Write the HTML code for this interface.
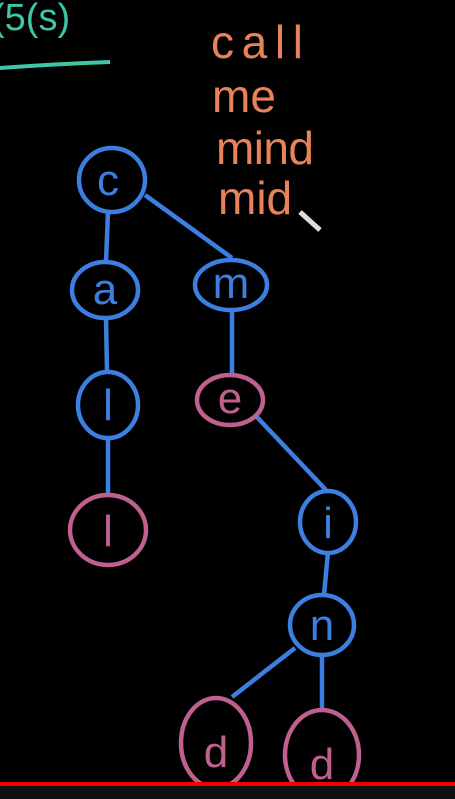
<!DOCTYPE html>
<html><head><style>
body{margin:0;background:#000;width:455px;height:799px;overflow:hidden}
svg{display:block}
text{font-family:"Liberation Sans",sans-serif}
</style></head><body>
<svg width="455" height="799" viewBox="0 0 455 799">
<rect width="455" height="799" fill="#000"/>
<text x="-8" y="30" fill="#3fc6a6" font-size="38">(5(s)</text>
<path d="M0 68 Q55 64 110 62" stroke="#3fc6a6" stroke-width="4" fill="none"/>
<g fill="#e8825a" font-size="46">
<text x="211" y="58" textLength="92">call</text>
<text x="212" y="112">me</text>
<text x="216" y="164" textLength="98">mind</text>
<text x="218" y="214">mid</text>
</g>
<path d="M300 212 L320 230" stroke="#ddd" stroke-width="5"/>
<g stroke="#3d7fe0" stroke-width="4.5" fill="none">
<path d="M108 212 L106 262"/><path d="M145 195 L232 258"/>
<path d="M106 318 L107 372"/><path d="M108 438 L108 495"/>
<path d="M232 310 L232 375"/><path d="M255 415 L326 490"/>
<path d="M328 552 L324 595"/><path d="M295 648 L232 697"/>
<path d="M322 655 L322 712"/>
</g>
<g font-size="44" text-anchor="middle" stroke-width="4.5">
<g><ellipse cx="112" cy="180" rx="33" ry="32" stroke="#3d7fe0" fill="none"/><text x="108" y="195" fill="#3d7fe0" stroke="none">c</text></g>
<g><ellipse cx="105" cy="290" rx="33" ry="28" stroke="#3d7fe0" fill="none"/><text x="105" y="304" fill="#3d7fe0" stroke="none">a</text></g>
<g><ellipse cx="108" cy="405" rx="30" ry="33" stroke="#3d7fe0" fill="none"/><text x="108" y="420" fill="#3d7fe0" stroke="none">l</text></g>
<g><ellipse cx="108" cy="530" rx="38" ry="35" stroke="#c0608f" fill="none"/><text x="108" y="546" fill="#c0608f" stroke="none">l</text></g>
<g><ellipse cx="231" cy="285" rx="36" ry="25" stroke="#3d7fe0" fill="none"/><text x="231" y="298" fill="#3d7fe0" stroke="none">m</text></g>
<g><ellipse cx="230" cy="400" rx="33" ry="25" stroke="#c0608f" fill="none"/><text x="230" y="413" fill="#c0608f" stroke="none">e</text></g>
<g><ellipse cx="328" cy="522" rx="28" ry="31" stroke="#3d7fe0" fill="none"/><text x="328" y="538" fill="#3d7fe0" stroke="none">i</text></g>
<g><ellipse cx="322" cy="625" rx="32" ry="30" stroke="#3d7fe0" fill="none"/><text x="322" y="640" fill="#3d7fe0" stroke="none">n</text></g>
<g><ellipse cx="216" cy="743" rx="35" ry="45" stroke="#c0608f" fill="none"/><text x="216" y="767" fill="#c0608f" stroke="none">d</text></g>
<g><ellipse cx="322" cy="755" rx="37" ry="45" stroke="#c0608f" fill="none"/><text x="322" y="779" fill="#c0608f" stroke="none">d</text></g>
</g>
<rect x="0" y="786" width="455" height="13" fill="#111"/>
<rect x="0" y="782" width="455" height="4" fill="#e00"/>
</svg>
</body></html>
